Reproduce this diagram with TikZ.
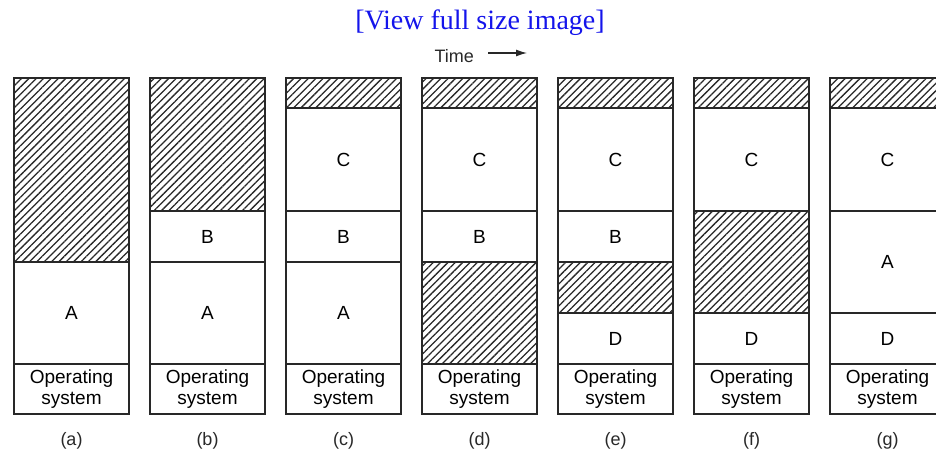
\documentclass[tikz,border=0pt]{standalone}
\usepackage{fontspec}
\setmainfont{Liberation Sans}
\newfontfamily\titlefont{Liberation Serif}
\usetikzlibrary{patterns.meta,arrows.meta}
\definecolor{linkblue}{RGB}{20,20,235}
\definecolor{ink}{RGB}{40,40,40}
\tikzset{
  seg/.style={draw=ink, line width=1.4pt, rectangle, inner sep=0pt, outer sep=0pt,
    minimum width=115pt, anchor=north west, font=\fontsize{19}{21}\selectfont, align=center},
  hole/.style={seg, pattern={Lines[angle=45,distance=5.2pt,line width=1.3pt]}, pattern color=ink},
  capt/.style={font=\fontsize{18}{20}\selectfont, text=ink}
}
\newcommand\sg[6]{\node[#5, minimum height=#4pt] (#1) at (#2,#3) {#6};}
\begin{document}
\begin{tikzpicture}[x=1pt,y=-1pt]
\useasboundingbox (0,0) rectangle (936,453);
\clip (0,0) rectangle (936,453);
\node[font=\titlefont\fontsize{28}{30}\selectfont, text=linkblue] (title) at (480,23) {[View full size image]};
\node[capt, anchor=west] (time) at (431,56) {Time};
\coordinate (tA) at (488,53);
\coordinate (tB) at (527,53);
\draw[ink, line width=1.2pt, -{Latex[length=11pt,width=7pt]}] (tA) -- (tB);
% (a)
\sg{ah}{14}{78}{184}{hole}{}
\sg{aA}{14}{262}{102}{seg}{A}
\sg{aO}{14}{364}{50}{seg}{Operating\\system}
% (b)
\sg{bh}{150}{78}{133}{hole}{}
\sg{bB}{150}{211}{51}{seg}{B}
\sg{bA}{150}{262}{102}{seg}{A}
\sg{bO}{150}{364}{50}{seg}{Operating\\system}
% (c)
\sg{ch}{286}{78}{30}{hole}{}
\sg{cC}{286}{108}{103}{seg}{C}
\sg{cB}{286}{211}{51}{seg}{B}
\sg{cA}{286}{262}{102}{seg}{A}
\sg{cO}{286}{364}{50}{seg}{Operating\\system}
% (d)
\sg{dh}{422}{78}{30}{hole}{}
\sg{dC}{422}{108}{103}{seg}{C}
\sg{dB}{422}{211}{51}{seg}{B}
\sg{dh2}{422}{262}{102}{hole}{}
\sg{dO}{422}{364}{50}{seg}{Operating\\system}
% (e)
\sg{eh}{558}{78}{30}{hole}{}
\sg{eC}{558}{108}{103}{seg}{C}
\sg{eB}{558}{211}{51}{seg}{B}
\sg{eh2}{558}{262}{51}{hole}{}
\sg{eD}{558}{313}{51}{seg}{D}
\sg{eO}{558}{364}{50}{seg}{Operating\\system}
% (f)
\sg{fh}{694}{78}{30}{hole}{}
\sg{fC}{694}{108}{103}{seg}{C}
\sg{fh2}{694}{211}{102}{hole}{}
\sg{fD}{694}{313}{51}{seg}{D}
\sg{fO}{694}{364}{50}{seg}{Operating\\system}
% (g)
\sg{gh}{830}{78}{30}{hole}{}
\sg{gC}{830}{108}{103}{seg}{C}
\sg{gA}{830}{211}{102}{seg}{A}
\sg{gD}{830}{313}{51}{seg}{D}
\sg{gO}{830}{364}{50}{seg}{Operating\\system}
% captions
\node[capt] (la) at (71.5,441) {(a)};
\node[capt] (lb) at (207.5,441) {(b)};
\node[capt] (lc) at (343.5,441) {(c)};
\node[capt] (ld) at (479.5,441) {(d)};
\node[capt] (le) at (615.5,441) {(e)};
\node[capt] (lf) at (751.5,441) {(f)};
\node[capt] (lg) at (887.5,441) {(g)};
\end{tikzpicture}
\end{document}
